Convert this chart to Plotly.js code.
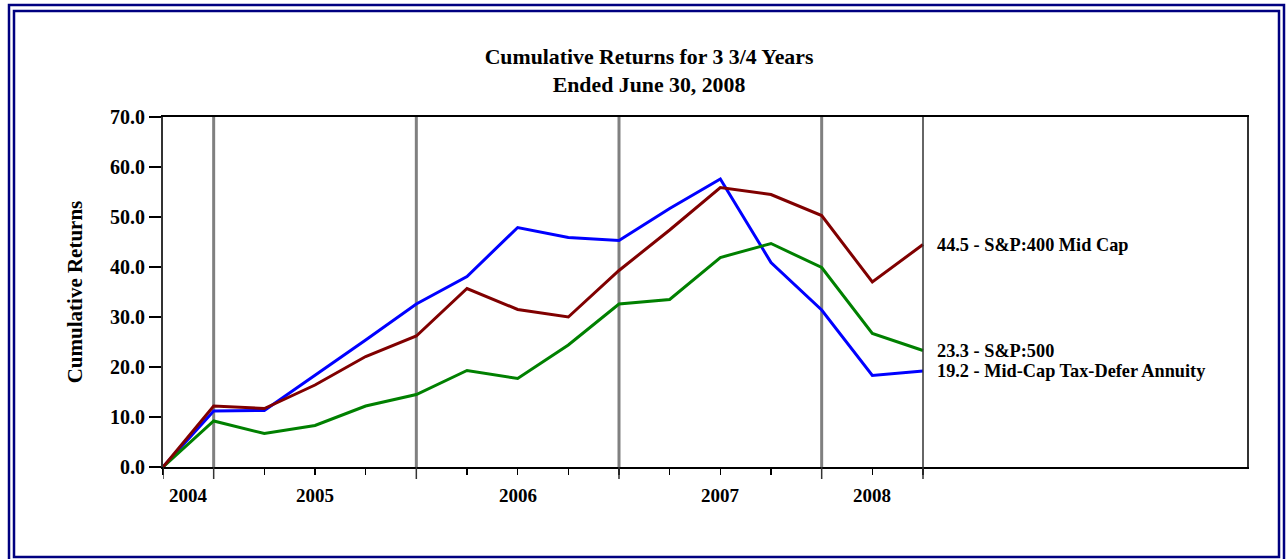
<!DOCTYPE html>
<html>
<head>
<meta charset="utf-8">
<script src="https://cdn.plot.ly/plotly-3.0.1.min.js"></script>
<style>
html,body{margin:0;padding:0;background:#fff;}
#chart{width:1288px;height:559px;}
</style>
</head>
<body>
<div id="chart"></div>
<script>
// Quarter-end dates (Sep 2004 .. Jun 2008)
const quarters = ["Sep-04","Dec-04","Mar-05","Jun-05","Sep-05","Dec-05","Mar-06","Jun-06",
                  "Sep-06","Dec-06","Mar-07","Jun-07","Sep-07","Dec-07","Mar-08","Jun-08"];
const annuityName = "Mid-Cap Tax-Defer Annuity";
const annuity = [0, 11.2, 11.3, 18.3, 25.4, 32.6, 38.1, 47.9, 45.9, 45.3, 51.7, 57.6, 40.9, 31.4, 18.3, 19.2];
const midcapName = "S&P:400 Mid Cap";
const midcap  = [0, 12.2, 11.7, 16.4, 22.1, 26.2, 35.7, 31.5, 30.0, 39.3, 47.4, 55.9, 54.5, 50.3, 37.0, 44.5];
const sp500Name = "S&P:500";
const sp500   = [0, 9.2, 6.7, 8.3, 12.2, 14.5, 19.3, 17.7, 24.4, 32.6, 33.5, 41.9, 44.7, 39.9, 26.7, 23.3];
const yearLabels = ["2004","2005","2006","2007","2008"];
const yearLabelPos = [0.5, 3, 7, 11, 14];      // quarter index where each year label sits
const yearBoundaries = [1, 5, 9, 13];           // Dec quarter-ends
const yTicks = [0,10,20,30,40,50,60,70];

const idx = quarters.map((q,i)=>i);
const FONT = '"Liberation Serif","Times New Roman",Times,serif';

const series = [
  {name: annuityName, y: annuity, color: '#0000FF'},
  {name: sp500Name,   y: sp500,   color: '#008000'},
  {name: midcapName,  y: midcap,  color: '#800000'}
];

const traces = series.map(s => ({
  x: idx, y: s.y, type: 'scatter', mode: 'lines', name: s.name,
  text: quarters, hoverinfo: 'text+y',
  line: {color: s.color, width: 3}
}));

const last = idx.length - 1;
const annotations = [];
// end labels
series.forEach(s => {
  annotations.push({
    x: last, y: s.y[last], xref: 'x', yref: 'y', xanchor: 'left', yanchor: 'middle',
    xshift: 12, showarrow: false,
    text: s.y[last].toFixed(1) + ' - ' + s.name,
    font: {family: FONT, size: 18.3, color: '#000', weight: 'bold'}
  });
});
// year labels
yearLabels.forEach((t,i) => {
  annotations.push({
    x: yearLabelPos[i], y: -0.08, xref: 'x', yref: 'paper', xanchor: 'center', yanchor: 'middle',
    showarrow: false, text: t,
    font: {family: FONT, size: 19, color: '#000', weight: 'bold'}
  });
});

const shapes = [];
// gray year separators
yearBoundaries.forEach(b => {
  shapes.push({type:'line', xref:'x', yref:'paper', x0:b, x1:b, y0:0, y1:1,
               line:{color:'#808080', width:3}, layer:'below'});
});
// long tick marks at year boundaries and ends
[0].concat(yearBoundaries, [last]).forEach(b => {
  shapes.push({type:'line', xref:'x', yref:'paper', x0:b, x1:b, y0:-12/350, y1:0,
               line:{color:'#333', width:1.5}});
});
// end line
shapes.push({type:'line', xref:'x', yref:'paper', x0:last, x1:last, y0:0, y1:1,
             line:{color:'#333', width:1.5}});
// double navy frame (paper coords: plot area 163..1247 x, 117..467 y)
const px = v => (v - 163) / 1084, py = v => (467 - v) / 350;
shapes.push({type:'rect', xref:'paper', yref:'paper', x0:px(9), x1:px(1284), y0:py(5), y1:py(561),
             line:{color:'#000080', width:2.5}});
shapes.push({type:'rect', xref:'paper', yref:'paper', x0:px(14), x1:px(1279), y0:py(11), y1:py(557),
             line:{color:'#000080', width:2.5}});

const layout = {
  width: 1288, height: 559,
  margin: {l: 163, r: 41, t: 117, b: 92},
  paper_bgcolor: '#fff', plot_bgcolor: '#fff',
  showlegend: false,
  font: {family: FONT, color: '#000'},
  title: {
    text: 'Cumulative Returns for 3 3/4 Years<br>Ended June 30, 2008',
    font: {family: FONT, size: 21.8, color: '#000', weight: 'bold'},
    x: 649/1288, xref: 'container', xanchor: 'center',
    y: 1 - 64/559, yref: 'container', yanchor: 'middle'
  },
  xaxis: {
    range: [0, 1084/ (760/15)], fixedrange: true,
    tickvals: idx, showticklabels: false,
    ticks: 'outside', ticklen: 6, tickwidth: 1.5, tickcolor: '#000',
    showgrid: false, zeroline: false,
    showline: true, linecolor: '#000', linewidth: 2, mirror: true
  },
  yaxis: {
    range: [0, 70], fixedrange: true,
    tickvals: yTicks, tickformat: '.1f',
    ticks: 'outside', ticklen: 12, tickwidth: 1.5, tickcolor: '#000',
    tickfont: {family: FONT, size: 20, color: '#000', weight: 'bold'},
    showgrid: false, zeroline: false,
    showline: true, linecolor: '#333', linewidth: 2, mirror: true,
    title: {text: 'Cumulative Returns', standoff: 22,
            font: {family: FONT, size: 21, color: '#000', weight: 'bold'}}
  },
  shapes: shapes,
  annotations: annotations
};

Plotly.newPlot('chart', traces, layout, {displayModeBar: false, staticPlot: true});
</script>
</body>
</html>
